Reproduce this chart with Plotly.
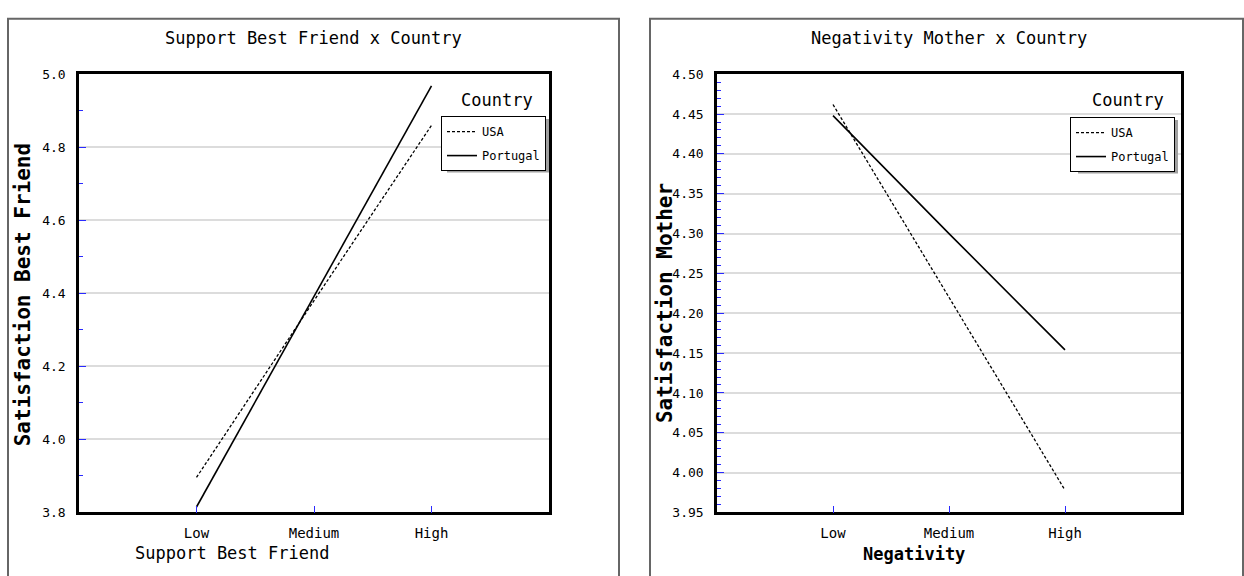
import plotly.graph_objects as go

# ---- data ----
categories = ["Low", "Medium", "High"]
sbf_usa = [3.896, 4.38, 4.86]
sbf_portugal = [3.815, 4.39, 4.968]
nm_usa = [4.462, 4.22, 3.978]
nm_portugal = [4.448, 4.30, 4.154]

titles = ["Support Best Friend x Country", "Negativity Mother x Country"]
x_titles = ["Support Best Friend", "Negativity"]
y_titles = ["Satisfaction Best Friend", "Satisfaction Mother"]
legend_title = "Country"

W, H = 1244, 576
MONO = "DejaVu Sans Mono, Liberation Mono, monospace"
BLUE = "#2a2aff"


def px(x):
    return x / W


def py(y):
    return 1 - y / H


fig = go.Figure()

# left panel traces
fig.add_trace(go.Scatter(x=categories, y=sbf_usa, name="USA", mode="lines",
                         line=dict(color="black", width=1.3, dash="3px,2px"),
                         xaxis="x", yaxis="y", legend="legend", legendgroup="a"))
fig.add_trace(go.Scatter(x=categories, y=sbf_portugal, name="Portugal", mode="lines",
                         line=dict(color="black", width=1.6),
                         xaxis="x", yaxis="y", legend="legend", legendgroup="b"))
# right panel traces
fig.add_trace(go.Scatter(x=categories, y=nm_usa, name="USA", mode="lines",
                         line=dict(color="black", width=1.3, dash="3px,2px"),
                         xaxis="x2", yaxis="y2", legend="legend2", legendgroup="c"))
fig.add_trace(go.Scatter(x=categories, y=nm_portugal, name="Portugal", mode="lines",
                         line=dict(color="black", width=1.6),
                         xaxis="x2", yaxis="y2", legend="legend2", legendgroup="d"))

left_dom = [px(79), px(549)]
right_dom = [px(717), px(1181)]
ydom = [py(519), py(69)]

xcommon = dict(type="category", range=[-1, 3], showgrid=False, showline=True,
               linecolor="black", linewidth=2.5, mirror=True, ticks="inside",
               ticklen=7, tickcolor=BLUE, tickwidth=1.2, zeroline=False,
               tickfont=dict(family=MONO, size=14, color="black"),
               ticklabelstandoff=6)
ycommon = dict(showgrid=True, gridcolor="#dcdcdc", gridwidth=1.5, showline=True,
               linecolor="black", linewidth=2.5, mirror=True, ticks="inside",
               ticklen=7, tickcolor=BLUE, tickwidth=1.2, zeroline=False,
               tickfont=dict(family=MONO, size=13, color="black"),
               ticklabelstandoff=8)

legcommon = dict(xanchor="right", yanchor="top", bgcolor="white",
                 bordercolor="black", borderwidth=1,
                 font=dict(family=MONO, size=12, color="black"),
                 itemwidth=30, tracegroupgap=5)

fig.update_layout(
    width=W, height=H,
    margin=dict(l=0, r=0, t=0, b=0),
    paper_bgcolor="white", plot_bgcolor="white",
    xaxis=dict(domain=left_dom, anchor="y", **xcommon),
    yaxis=dict(domain=ydom, anchor="x", range=[3.8, 5.0], dtick=0.2, tick0=3.8,
               tickformat=".1f",
               minor=dict(dtick=0.1, ticks="inside", ticklen=4, tickcolor=BLUE, showgrid=False),
               **ycommon),
    xaxis2=dict(domain=right_dom, anchor="y2", **xcommon),
    yaxis2=dict(domain=ydom, anchor="x2", range=[3.95, 4.50], dtick=0.05, tick0=3.95,
                tickformat=".2f",
                minor=dict(dtick=0.01, ticks="inside", ticklen=4, tickcolor=BLUE, showgrid=False),
                **ycommon),
    showlegend=True,
    legend=dict(x=px(546), y=py(112), **legcommon),
    legend2=dict(x=px(1175), y=py(113), **legcommon),
)

shapes = []
# panel frames
for x0, x1 in [(8, 619), (650, 1243)]:
    shapes.append(dict(type="rect", xref="paper", yref="paper",
                       x0=px(x0), x1=px(x1), y0=py(590), y1=py(12),
                       line=dict(color="#666666", width=2), fillcolor="rgba(0,0,0,0)",
                       layer="below"))
# legend shadows
for x0, x1, y0, y1 in [(447, 549, 115, 170), (1078, 1178, 116, 171)]:
    shapes.append(dict(type="rect", xref="paper", yref="paper",
                       x0=px(x0), x1=px(x1), y0=py(y1), y1=py(y0),
                       line=dict(width=0), fillcolor="#a0a0a0", layer="above"))
fig.update_layout(shapes=shapes)

ann = []
for cx, t in [(314, titles[0]), (949, titles[1])]:
    ann.append(dict(text=t, x=px(cx), y=py(32), xref="paper", yref="paper",
                    showarrow=False, xanchor="center", yanchor="middle",
                    font=dict(family=MONO, size=17, color="black")))
ann.append(dict(text=x_titles[0], x=px(232), y=py(561), xref="paper", yref="paper",
                showarrow=False, xanchor="center", yanchor="middle",
                font=dict(family=MONO, size=17, color="black")))
ann.append(dict(text="<b>" + x_titles[1] + "</b>", x=px(914), y=py(562), xref="paper",
                yref="paper", showarrow=False, xanchor="center", yanchor="middle",
                font=dict(family=MONO, size=17, color="black")))
for cx, cy, t in [(23, 296, y_titles[0]), (665, 304, y_titles[1])]:
    ann.append(dict(text="<b>" + t + "</b>", x=px(cx), y=py(cy), xref="paper",
                    yref="paper", showarrow=False, textangle=-90,
                    xanchor="center", yanchor="middle",
                    font=dict(family=MONO, size=21, color="black")))
for cx in [497, 1128]:
    ann.append(dict(text=legend_title, x=px(cx), y=py(95), xref="paper", yref="paper",
                    showarrow=False, xanchor="center", yanchor="middle",
                    font=dict(family=MONO, size=17, color="black")))
fig.update_layout(annotations=ann)

fig.write_html("out.html", config={"displayModeBar": False},
               post_script="document.body.style.margin='0';document.body.style.overflow='hidden';")
